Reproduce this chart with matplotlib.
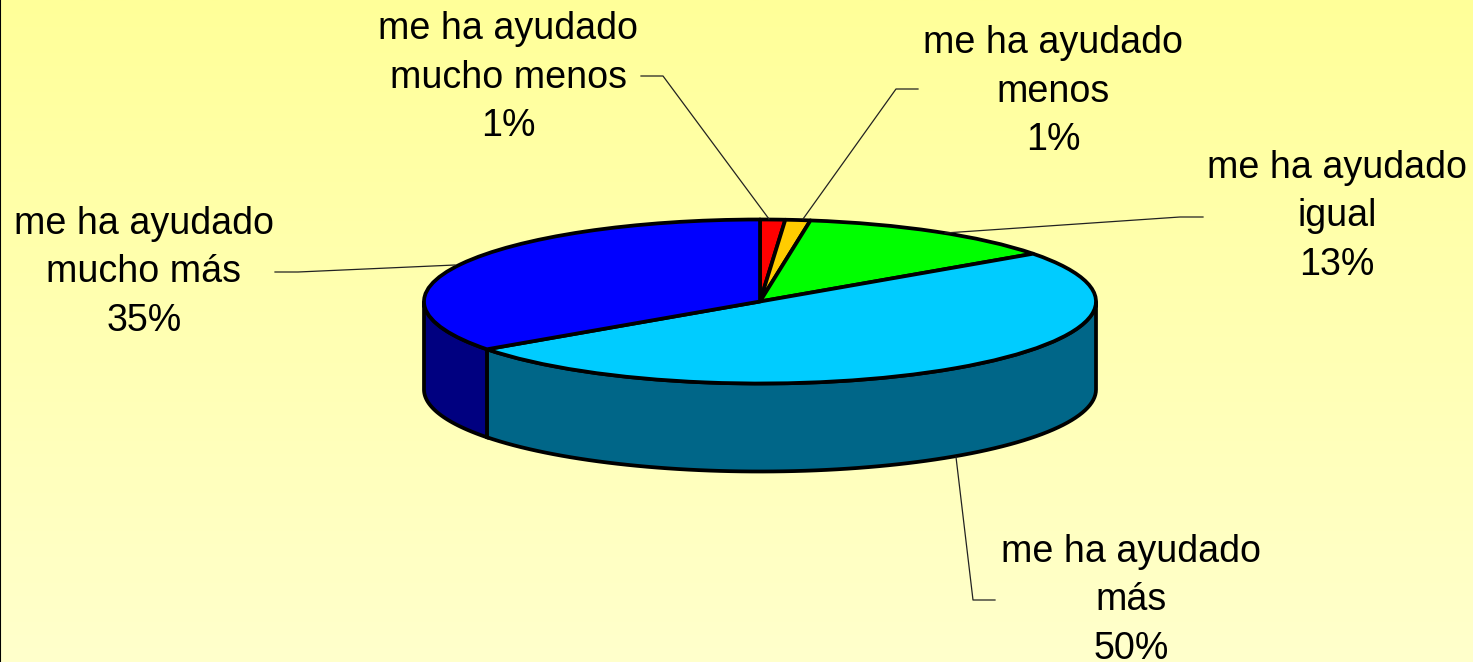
import matplotlib
matplotlib.use("Agg")
import matplotlib.pyplot as plt
import numpy as np

# share of the pie as drawn (the printed labels are rounded)
values = [1.2, 1.2, 12.7, 50.0, 34.9]
colors = ["#FF0000", "#FFCC00", "#00FF00", "#00CCFF", "#0000FF"]
wall_colors = ["#800000", "#806600", "#008000", "#006688", "#000080"]
labels = ["me ha ayudado\nmucho menos\n1%", "me ha ayudado\nmenos\n1%",
          "me ha ayudado\nigual\n13%", "me ha ayudado\nmás\n50%",
          "me ha ayudado\nmucho más\n35%"]

W, H = 1473, 662
cx, cy, rx, ry, depth = 760, 301.5, 336, 82, 88

label_pos = [(508, 39), (1053, 53), (1337, 178), (1131, 562), (144, 234)]
leaders = [[(641, 76), (663, 76), (769, 219)],
           [(918, 89), (896, 89), (803, 219)],
           [(1203, 217), (1180, 217), (945, 233)],
           [(956, 457), (973, 600), (995, 600)],
           [(275, 272), (298, 272), (455, 265)]]

plt.rcParams["font.family"] = "Liberation Sans"
fig = plt.figure(figsize=(W / 100, H / 100), dpi=100)

# background gradient
bg = fig.add_axes([0, 0, 1, 1])
grad = np.linspace(0, 1, 256).reshape(-1, 1)
top, bottom = np.array([255, 255, 153]) / 255, np.array([255, 255, 204]) / 255
bg.imshow(top + grad[..., None] * (bottom - top), aspect="auto", extent=(0, W, H, 0))
bg.axvline(0, color="black", lw=1.5)
bg.set_xlim(0, W)
bg.set_ylim(H, 0)
bg.axis("off")

# pie in unit circle coords, squashed by the axis limits
ax = fig.add_axes([0, 0, 1, 1])
ax.pie(values, colors=colors, startangle=90, counterclock=False, radius=1,
       wedgeprops=dict(edgecolor="black", linewidth=2.7, joinstyle="round"))
ax.set_aspect("auto")
ax.set_xlim(-cx / rx, (W - cx) / rx)
ax.set_ylim((cy - H) / ry, cy / ry)
ax.axis("off")

# side walls, only the part facing the viewer
d = depth / ry
edges = np.cumsum([0] + values) / sum(values) * 2 * np.pi
for i in range(len(values)):
    a = max(edges[i], np.pi / 2)
    b = min(edges[i + 1], 3 * np.pi / 2)
    if b <= a:
        continue
    t = np.linspace(a, b, 80)
    x, y = np.sin(t), np.cos(t)
    ax.fill(np.r_[x, x[::-1]], np.r_[y, y[::-1] - d], facecolor=wall_colors[i],
            edgecolor="black", linewidth=2.7, zorder=0.5)

# labels and leader lines in pixel coords
over = fig.add_axes([0, 0, 1, 1])
over.set_xlim(0, W)
over.set_ylim(H, 0)
over.axis("off")
for text, (lx, ly), pts in zip(labels, label_pos, leaders):
    for k, line in enumerate(text.split("\n")):
        over.text(lx, ly + k * 48.5, line, ha="center", va="baseline",
                  fontsize=27.1, color="black")
    over.plot([p[0] for p in pts], [p[1] for p in pts], color="#222222", lw=0.9)

fig.savefig("out.png", dpi=100)
